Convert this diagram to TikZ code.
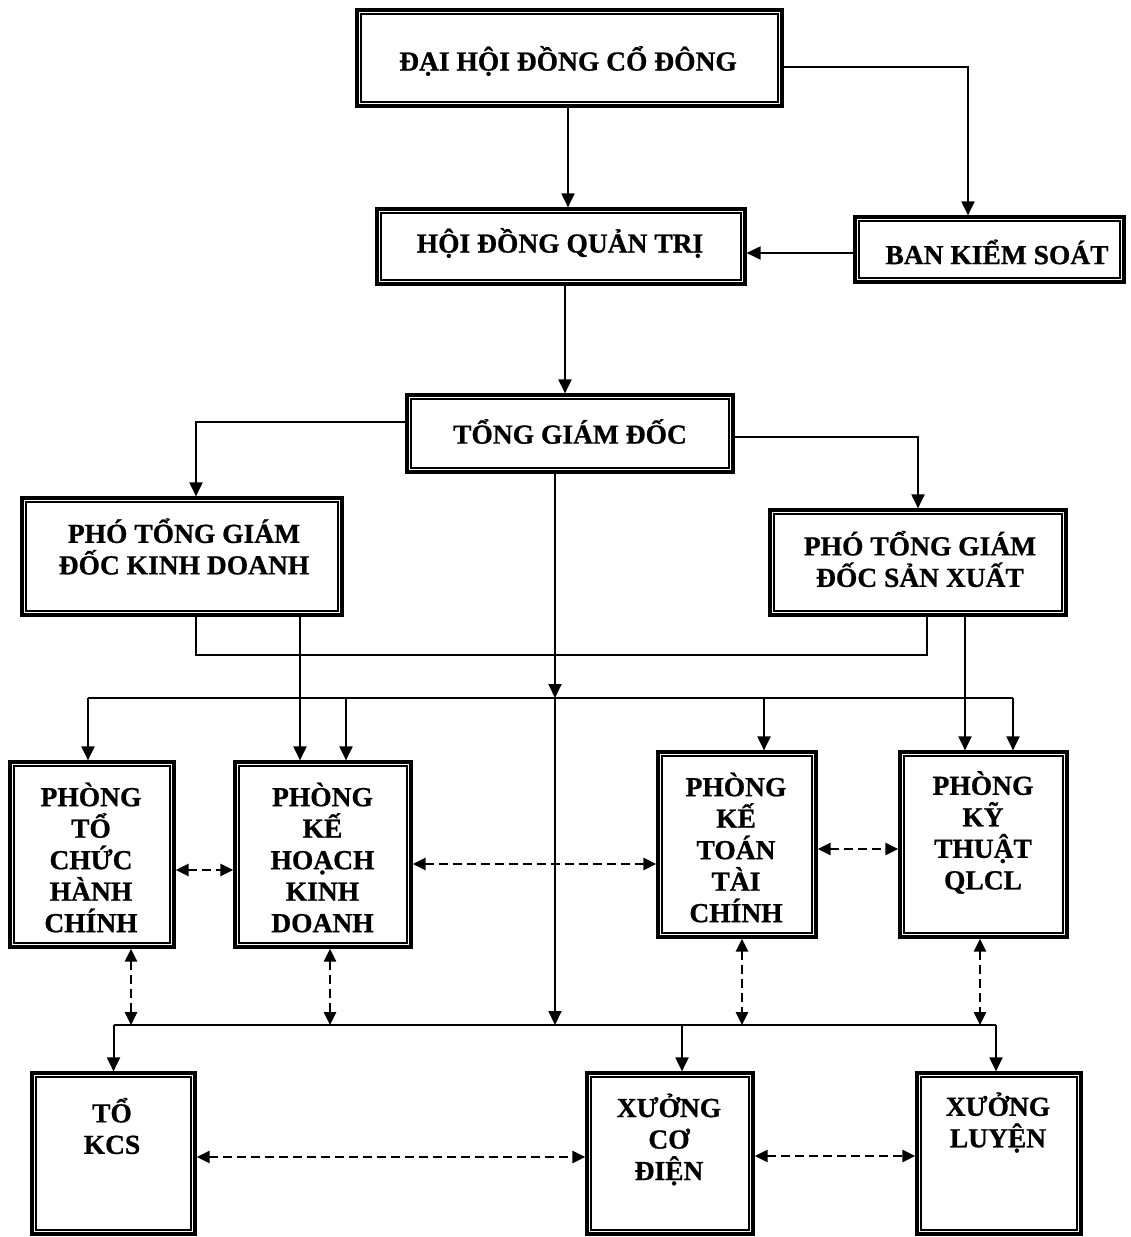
\documentclass[tikz,border=0pt]{standalone}
\usepackage{fontspec}
\setmainfont{Liberation Serif}[BoldFeatures={FakeBold=0.8}]
\usetikzlibrary{arrows.meta}
\begin{document}
\begin{tikzpicture}[x=1pt,y=-1pt,
  frame/.style={draw, line width=3.2pt, inner sep=0pt},
  inbox/.style={line width=1.4pt},
  lbl/.style={font=\bfseries\fontsize{27.5}{31.5}\selectfont, align=center, inner sep=0pt},
  conn/.style={line width=2pt},
  arr/.style={conn, -{Triangle[length=14pt,width=13pt]}},
  darr/.style={line width=2.6pt, dash pattern=on 9pt off 5pt,
    {Triangle[length=13pt,width=12pt]}-{Triangle[length=13pt,width=12pt]}},
]
\fill[white] (0,0) rectangle (1131,1237);
\useasboundingbox (0,0) rectangle (1131,1237);

% frames
\node[frame, minimum width=425pt, minimum height=96pt]  (dhd)  at (569.5,58)   {};
\node[frame, minimum width=368pt, minimum height=75pt]  (hdqt) at (561,246.5)  {};
\node[frame, minimum width=269pt, minimum height=65pt]  (bks)  at (989.5,249.5){};
\node[frame, minimum width=326pt, minimum height=77pt]  (tgd)  at (570,433.5)  {};
\node[frame, minimum width=320pt, minimum height=117pt] (ptkd) at (182,556.5)  {};
\node[frame, minimum width=296pt, minimum height=105pt] (ptsx) at (918,562.5)  {};
\node[frame, minimum width=164pt, minimum height=185pt] (tchc) at (92,854.5)   {};
\node[frame, minimum width=176pt, minimum height=185pt] (khkd) at (323,854.5)  {};
\node[frame, minimum width=158pt, minimum height=185pt] (kttc) at (737,844.5)  {};
\node[frame, minimum width=167pt, minimum height=185pt] (kt)   at (983.5,844.5){};
\node[frame, minimum width=163pt, minimum height=161pt] (kcs)  at (113.5,1153.5){};
\node[frame, minimum width=166pt, minimum height=161pt] (xcd)  at (670,1153.5) {};
\node[frame, minimum width=164pt, minimum height=161pt] (xl)   at (999,1153.5) {};

\foreach \n in {dhd,hdqt,bks,tgd,ptkd,ptsx,tchc,khkd,kttc,kt,kcs,xcd,xl}
  \draw[inbox] ([shift={(5.5,5.5)}]\n.north west) rectangle ([shift={(-5.5,-5.5)}]\n.south east);

% texts
\node[lbl] (dhd-t)  at (568,61)     {ĐẠI HỘI ĐỒNG CỔ ĐÔNG};
\node[lbl] (hdqt-t) at (560,243)    {HỘI ĐỒNG QUẢN TRỊ};
\node[lbl] (bks-t)  at (997,252)    {BAN KIỂM SOÁT};
\node[lbl] (tgd-t)  at (570,431.5)  {TỔNG GIÁM ĐỐC};
\node[lbl] (ptkd-t) at (184,546.5)  {PHÓ TỔNG GIÁM\\ĐỐC KINH DOANH};
\node[lbl] (ptsx-t) at (920,559)    {PHÓ TỔNG GIÁM\\ĐỐC SẢN XUẤT};
\node[lbl] (tchc-t) at (91,857.5)   {PHÒNG\\TỔ\\CHỨC\\HÀNH\\CHÍNH};
\node[lbl] (khkd-t) at (322.5,857.5){PHÒNG\\KẾ\\HOẠCH\\KINH\\DOANH};
\node[lbl] (kttc-t) at (736,847.5)  {PHÒNG\\KẾ\\TOÁN\\TÀI\\CHÍNH};
\node[lbl] (kt-t)   at (983,832.5)  {PHÒNG\\KỸ\\THUẬT\\QLCL};
\node[lbl] (kcs-t)  at (112,1126)   {TỔ\\KCS};
\node[lbl] (xcd-t)  at (669,1139.5) {XƯỞNG\\CƠ\\ĐIỆN};
\node[lbl] (xl-t)   at (998,1122.5) {XƯỞNG\\LUYỆN};

% top connectors
\draw[arr] ([xshift=-1.5pt]dhd.south) -- ([xshift=-1.5pt]dhd.south |- hdqt.north);
\draw[arr] ([yshift=-9pt]dhd.east) -| ([xshift=-21.5pt]bks.north);
\draw[arr] ([yshift=-3.5pt]bks.west) -- ([yshift=-3.5pt]bks.west -| hdqt.east);
\draw[arr] ([xshift=4pt]hdqt.south) -- ([xshift=4pt]hdqt.south |- tgd.north);
\draw[arr] ([yshift=11.5pt]tgd.west) -| ([xshift=14pt]ptkd.north);
\draw[arr] ([yshift=-3.5pt]tgd.east) -| (ptsx.north);

% buses
\coordinate (b1L) at (88,698);
\coordinate (b1R) at (1013,698);
\coordinate (b1M) at (555,698);
\coordinate (b2L) at (113.5,1025);
\coordinate (b2R) at (996,1025);
\coordinate (b2M) at (555,1025);
\draw[conn] (b1L) -- (b1R);
\draw[conn] (b2L) -- (b2R);

\draw[arr] (tgd.south -| b1M) -- (b1M);
\draw[arr] (b1M) -- (b2M);

% PTGD links
\draw[conn] ([xshift=14pt]ptkd.south) -- ++(0,38) -| ([xshift=9pt]ptsx.south);
\draw[arr] ([xshift=118pt]ptkd.south) -- ([xshift=118pt]ptkd.south |- khkd.north);
\draw[arr] ([xshift=47pt]ptsx.south) -- ([xshift=47pt]ptsx.south |- kt.north);

% upper bus to departments
\draw[arr] (b1L) -- (b1L |- tchc.north);
\draw[arr] ([xshift=23pt]khkd.north |- b1L) -- ([xshift=23pt]khkd.north);
\draw[arr] ([xshift=27pt]kttc.north |- b1L) -- ([xshift=27pt]kttc.north);
\draw[arr] (b1R) -- (b1R |- kt.north);

% dashed links between departments
\draw[darr] ([yshift=-15.5pt]tchc.east) -- ([yshift=-15.5pt]tchc.east -| khkd.west);
\draw[darr] ([yshift=-9.5pt]khkd.east) -- ([yshift=-9.5pt]khkd.east -| kttc.west);
\draw[darr] ([yshift=-4.5pt]kttc.east) -- ([yshift=-4.5pt]kttc.east -| kt.west);

% dashed links departments to lower bus
\draw[darr] ([xshift=39pt]tchc.south) -- ([xshift=39pt]tchc.south |- b2L);
\draw[darr] ([xshift=7pt]khkd.south) -- ([xshift=7pt]khkd.south |- b2L);
\draw[darr] ([xshift=5pt]kttc.south) -- ([xshift=5pt]kttc.south |- b2L);
\draw[darr] ([xshift=-3.5pt]kt.south) -- ([xshift=-3.5pt]kt.south |- b2L);

% lower bus to workshops
\draw[arr] (b2L) -- (b2L |- kcs.north);
\draw[arr] ([xshift=12pt]xcd.north |- b2L) -- ([xshift=12pt]xcd.north);
\draw[arr] (b2R) -- (b2R |- xl.north);

% dashed links between workshops
\draw[darr] ([yshift=-3.5pt]kcs.east) -- ([yshift=-3.5pt]kcs.east -| xcd.west);
\draw[darr] ([yshift=-2.5pt]xcd.east) -- ([yshift=-2.5pt]xcd.east -| xl.west);
\end{tikzpicture}
\end{document}
